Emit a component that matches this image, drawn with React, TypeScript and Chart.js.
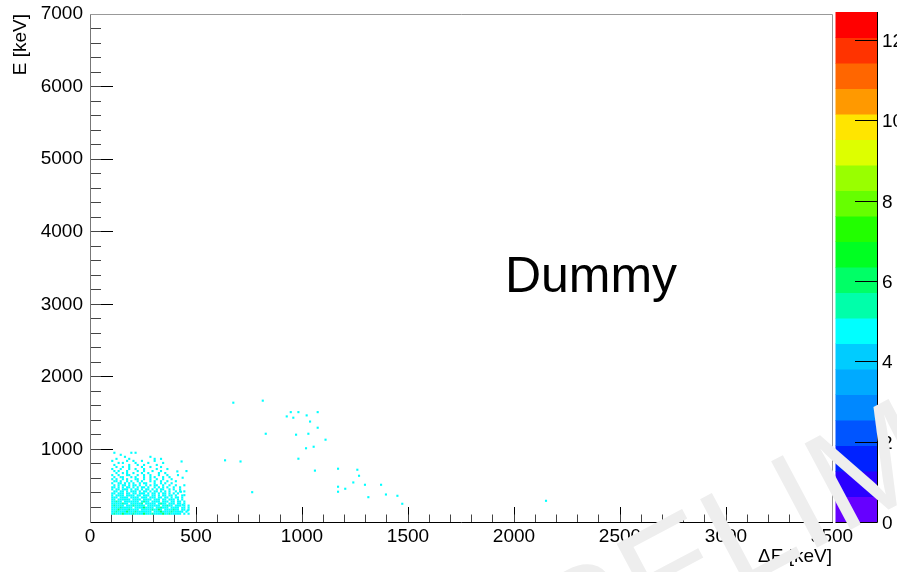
import { useEffect, useRef } from 'react';
import { Chart, registerables } from 'chart.js';

Chart.register(...registerables);

// ---------- data ----------
const xMin = 0;
const xMax = 3500;
const yMin = 0;
const yMax = 7000;
const xMajorStep = 500;
const xMinorStep = 100;
const yMajorStep = 1000;
const yMinorStep = 200;

const zMax = 12.7;
const zTickValues = [0, 2, 4, 6, 8, 10, 12];
// palette, bottom (0) to top (zMax), 20 contour bands
const paletteColors = [
  '#6600ff', '#2a00ff', '#0022ff', '#0055ff', '#0088ff',
  '#00aaff', '#00ccff', '#00ffff', '#00ffaa', '#00ff66',
  '#00ff22', '#22ff00', '#66ff00', '#99ff00', '#ddff00',
  '#ffe500', '#ff9900', '#ff6600', '#ff3300', '#ff0000',
];

// cell contents of the dense cluster (ΔE bins of 10 keV from 100 keV,
// E bins of 28 keV going down from 968 keV). '.' = empty
const cellLevels: Record<string, number> = { b: 4.2, c: 4.8, a: 5.4, g: 6.0 };
const clusterDeltaE0 = 100;
const clusterBinW = 10;
const clusterETop = 968;
const clusterBinH = 28;
const clusterRows = [
  '.c.......c.c........................',
  '....c...............................',
  '......c...........c.................',
  '..c.....c...........c..c............',
  'c......c..c...c.....c...............',
  '...c.c.....c.....c......c...........',
  '.c......c...c..c.....c..............',
  '..c..c..c.....c...c....c............',
  'c...c...c..c...c.....c....c.........',
  '.c.c...c....c..c...c...c...........c',
  '..c..c.c..c...c..c....c..c..........',
  'c..c...cc...c..c..c...c...c....c....',
  '.c..cc...c.c...c..c.c...c..c.......',
  'c.c..c.c...cc..c..c..c..c...c.......',
  '.cc.c..c.c..c.c...c.c..c..c...c.....',
  'c..cc.c.c.c..c.cc...c..c.c..c.......',
  '.c.c.cc.c.cc.c..c.c.cc..c..c..c...c.',
  'cc.c.c.cc.c.c.cc.c..c.c.c.c..c..c...',
  'c.cc.ccc.c.cc.c.cc.c.c.cc..c.c..c...',
  '.cc.cc.c.ccc.c.cc.c.cc.c.c.c..c.c.c.',
  'cc.ccc.cc.cc.ccc.c.cc.c.cc.c.c.c....',
  'c.cccc.cccc.cc.ccc.cc.c.cc.cc.c..c..',
  'ccc.cccc.cccc.ccc.ccc.cc.cc.c.cc.c..',
  'cc.cccccc.cccc.cccc.ccc.cc.ccc.c.c..',
  'ccacc.ccccccc.cacc.cccc.ccc.cc.cc.c.',
  'cccccacc.ccccca.ccccc.cacc.ccc.cc.c.',
  'cacccc.cccaccccc.cccccc.ccacc.ccc.c.c',
  'ccccaccccc.ccccgcccc.ccaccc.cccc.cc.c.',
  'cccgccccacccc.cccccaccgc.ccccacc.cc.c',
  'ccaccccgcccaccccccc.cccgccccaccccc.c.',
  'cacccgccccaccccgcccaccccgccaccccc.c.c.',
];

// isolated cells outside the cluster
const sparseDeltaE = [
  676, 815, 947, 983, 928, 959, 1022, 1074, 1038, 1074, 829, 972, 1030, 1111,
  1019, 1055, 983, 1061, 1170, 1170, 1170, 1204, 1261, 1269, 1242, 1297, 1373,
  1313, 1396, 1450, 1473, 2151, 637, 710, 765, 432, 412, 437, 429, 445, 437, 461,
];
const sparseE = [
  1644, 1672, 1514, 1514, 1455, 1437, 1469, 1514, 1384, 1299, 1216, 1203, 1216, 1134,
  1016, 1037, 872, 708, 734, 486, 417, 458, 720, 637, 545, 513, 513,
  342, 379, 361, 251, 292, 850, 834, 411, 834, 697, 610, 417, 370, 237, 159,
];
const sparseCounts = sparseDeltaE.map(() => 4.8);

const xTitle = 'ΔE [keV]';
const yTitle = 'E [keV]';
const dummyText = 'Dummy';
const dummyAt = { x: 1957, y: 3166 };
const watermarkText = 'PRELIMINARY';

// ---------- helpers ----------
function colorFor(v: number) {
  const idx = Math.max(0, Math.min(paletteColors.length - 1, Math.floor(v / (zMax / paletteColors.length))));
  return paletteColors[idx];
}

type Cell = { x: number; y: number; v: number };

function buildCells(): Cell[] {
  const cells: Cell[] = [];
  clusterRows.forEach((row, r) => {
    for (let c = 0; c < row.length; c++) {
      const ch = row[c];
      if (ch === '.') continue;
      cells.push({
        x: clusterDeltaE0 + c * clusterBinW + clusterBinW / 2,
        y: clusterETop - r * clusterBinH - clusterBinH / 2,
        v: cellLevels[ch],
      });
    }
  });
  sparseDeltaE.forEach((x, i) => {
    cells.push({ x, y: sparseE[i], v: sparseCounts[i] });
  });
  return cells;
}

const FONT = '"Liberation Sans", Arial, Helvetica, sans-serif';

const framePlugin = {
  id: 'frame',
  afterDraw(chart: any) {
    const { ctx, chartArea } = chart;
    const { top, bottom, left, right } = chartArea;
    ctx.save();
    ctx.strokeStyle = '#999999';
    ctx.lineWidth = 1;
    ctx.beginPath();
    ctx.moveTo(left, top + 0.5);
    ctx.lineTo(right + 0.5, top + 0.5);
    ctx.lineTo(right + 0.5, bottom);
    ctx.stroke();

    // colour bar
    const barL = right + 3.5;
    const barR = right + 45;
    const barTop = top - 2;
    const barBot = bottom;
    const n = paletteColors.length;
    const bandH = (barBot - barTop) / n;
    for (let i = 0; i < n; i++) {
      ctx.fillStyle = paletteColors[i];
      const y1 = barBot - (i + 1) * bandH;
      ctx.fillRect(barL, y1, barR - barL, bandH + 0.5);
    }
    ctx.strokeStyle = '#000';
    ctx.beginPath();
    ctx.moveTo(barL, barBot + 0.5);
    ctx.lineTo(barR + 0.5, barBot + 0.5);
    ctx.lineTo(barR + 0.5, barTop);
    ctx.stroke();
    ctx.fillStyle = '#000';
    ctx.font = `19px ${FONT}`;
    ctx.textAlign = 'left';
    ctx.textBaseline = 'middle';
    zTickValues.forEach((z) => {
      const y = Math.round(barBot - (z / zMax) * (barBot - barTop)) + 0.5;
      ctx.beginPath();
      ctx.moveTo(barR - 22, y);
      ctx.lineTo(barR, y);
      ctx.stroke();
      ctx.fillText(String(z), barR + 5, y + 1);
    });

    // label text inside the pad
    const xs = chart.scales.x;
    const ys = chart.scales.y;
    ctx.font = `50px ${FONT}`;
    ctx.textBaseline = 'alphabetic';
    ctx.fillText(dummyText, xs.getPixelForValue(dummyAt.x), ys.getPixelForValue(dummyAt.y));

    // watermark
    ctx.save();
    ctx.translate(478, 728);
    ctx.rotate((-28 * Math.PI) / 180);
    ctx.font = `142px ${FONT}`;
    ctx.fillStyle = '#eeeeee';
    ctx.fillText(watermarkText, 0, 0);
    ctx.restore();
    ctx.restore();
  },
};

export default function App() {
  const ref = useRef<HTMLCanvasElement | null>(null);
  useEffect(() => {
    document.body.style.margin = '0';
    const canvas = ref.current;
    if (!canvas) return;
    const cells = buildCells();
    const chart = new Chart(canvas, {
      type: 'scatter',
      data: {
        datasets: [
          {
            data: cells as any,
            pointStyle: 'rect',
            pointRadius: 1.5,
            pointHoverRadius: 1.5,
            borderWidth: 0,
            backgroundColor: (c: any) => colorFor(c.raw ? c.raw.v : 0),
          },
        ],
      },
      options: {
        animation: false,
        responsive: false,
        maintainAspectRatio: false,
        devicePixelRatio: 1,
        events: [],
        layout: { padding: { left: 0, top: 14, right: 65, bottom: 0 } },
        plugins: { legend: { display: false }, tooltip: { enabled: false } },
        scales: {
          x: {
            type: 'linear',
            min: xMin,
            max: xMax,
            position: 'bottom',
            weight: 1,
            ticks: {
              stepSize: xMajorStep,
              autoSkip: false,
              maxRotation: 0,
              color: '#000',
              font: { family: FONT, size: 19 },
              padding: 18,
              callback: (v: any) => String(v),
            },
            grid: { drawOnChartArea: false, tickLength: -15, tickColor: '#000' },
            border: { color: '#000' },
            title: {
              display: true,
              text: xTitle,
              align: 'end',
              color: '#000',
              font: { family: FONT, size: 19 },
              padding: { top: 0, bottom: 4 },
            },
            afterFit: (s: any) => { s.height = 50; s.paddingLeft = 0; s.paddingRight = 0; },
          },
          xm: {
            type: 'linear',
            min: xMin,
            max: xMax,
            position: 'bottom',
            weight: 0,
            ticks: { stepSize: xMinorStep, display: false, autoSkip: false },
            grid: { drawOnChartArea: false, tickLength: -7.5, tickColor: '#444' },
            border: { display: false },
            afterFit: (s: any) => { s.height = 0; s.paddingLeft = 0; s.paddingRight = 0; },
          },
          y: {
            type: 'linear',
            min: yMin,
            max: yMax,
            position: 'left',
            weight: 1,
            ticks: {
              stepSize: yMajorStep,
              autoSkip: false,
              color: '#000',
              font: { family: FONT, size: 19 },
              padding: 30,
              callback: (v: any) => (v === 0 ? '' : String(v)),
            },
            grid: { drawOnChartArea: false, tickLength: -23, tickColor: '#000' },
            border: { color: '#777' },
            title: {
              display: true,
              text: yTitle,
              align: 'end',
              color: '#000',
              font: { family: FONT, size: 19 },
              padding: { top: 9.5, bottom: 0 },
            },
            afterFit: (s: any) => { s.width = 90; s.paddingTop = 0; s.paddingBottom = 0; },
          },
          ym: {
            type: 'linear',
            min: yMin,
            max: yMax,
            position: 'left',
            weight: 0,
            ticks: { stepSize: yMinorStep, display: false, autoSkip: false },
            grid: { drawOnChartArea: false, tickLength: -11, tickColor: '#444' },
            border: { display: false },
            afterFit: (s: any) => { s.width = 0; s.paddingTop = 0; s.paddingBottom = 0; },
          },
        },
      } as any,
      plugins: [framePlugin],
    });
    return () => chart.destroy();
  }, []);
  return <canvas ref={ref} width={897} height={572} style={{ display: 'block' }} />;
}
